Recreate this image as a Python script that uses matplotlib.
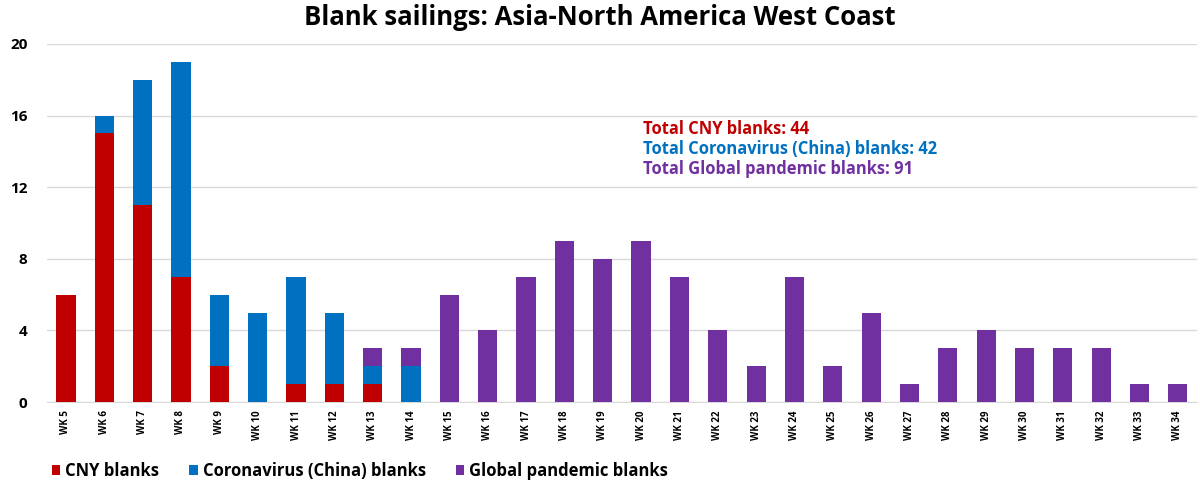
import numpy as np
import matplotlib.pyplot as plt

plt.rcParams['font.family'] = ['Open Sans', 'DejaVu Sans']
plt.rcParams['font.weight'] = 'bold'

weeks = ['WK %d' % w for w in range(5, 35)]
cny = [6, 15, 11, 7, 2, 0, 1, 1, 1, 0] + [0] * 20
corona = [0, 1, 7, 12, 4, 5, 6, 4, 1, 2] + [0] * 20
pandemic = [0] * 8 + [1, 1, 6, 4, 7, 9, 8, 9, 7, 4, 2, 7, 2, 5, 1, 3, 4, 3, 3, 3, 1, 1]

red = '#C00000'
blue = '#0070C0'
purple = '#7030A0'

x = np.arange(len(weeks))
cny = np.array(cny)
corona = np.array(corona)
pandemic = np.array(pandemic)

fig = plt.figure(figsize=(12, 4.88), dpi=100)
ax = fig.add_axes([0.039, 0.176, 0.9585, 0.734])

w = 0.5
ax.bar(x, cny, w, color=red, label='CNY blanks', zorder=3)
ax.bar(x, corona, w, bottom=cny, color=blue, label='Coronavirus (China) blanks', zorder=3)
ax.bar(x, pandemic, w, bottom=cny + corona, color=purple, label='Global pandemic blanks', zorder=3)

ax.set_xlim(-0.5, len(weeks) - 0.5)
ax.set_ylim(0, 20)
ax.set_yticks(range(0, 21, 4))
ax.grid(axis='y', color='#d9d9d9', linewidth=1, zorder=0)
ax.set_xticks(x)
ax.set_xticklabels(weeks, rotation=90, fontsize=7, fontweight='bold')
ax.tick_params(axis='y', labelsize=11, length=0, pad=14)
ax.tick_params(axis='x', length=0, pad=6)
for s in ['top', 'right', 'left']:
    ax.spines[s].set_visible(False)
ax.spines['bottom'].set_color('#d9d9d9')

fig.suptitle('Blank sailings: Asia-North America West Coast', fontsize=18.5,
             fontweight='bold', y=0.992)

ax.text(0.518, 0.763, 'Total CNY blanks: 44', color=red, fontsize=11.9,
        fontweight='bold', transform=ax.transAxes, va='center')
ax.text(0.518, 0.706, 'Total Coronavirus (China) blanks: 42', color=blue, fontsize=11.9,
        fontweight='bold', transform=ax.transAxes, va='center')
ax.text(0.518, 0.650, 'Total Global pandemic blanks: 91', color=purple, fontsize=11.9,
        fontweight='bold', transform=ax.transAxes, va='center')

leg = fig.legend(loc='center left', bbox_to_anchor=(0.0433, 0.035), ncol=3, frameon=False,
                 fontsize=12, handlelength=0.5, handleheight=0.5, handletextpad=0.3,
                 columnspacing=1.8, borderaxespad=0, borderpad=0)

fig.savefig('out.png', dpi=100)
